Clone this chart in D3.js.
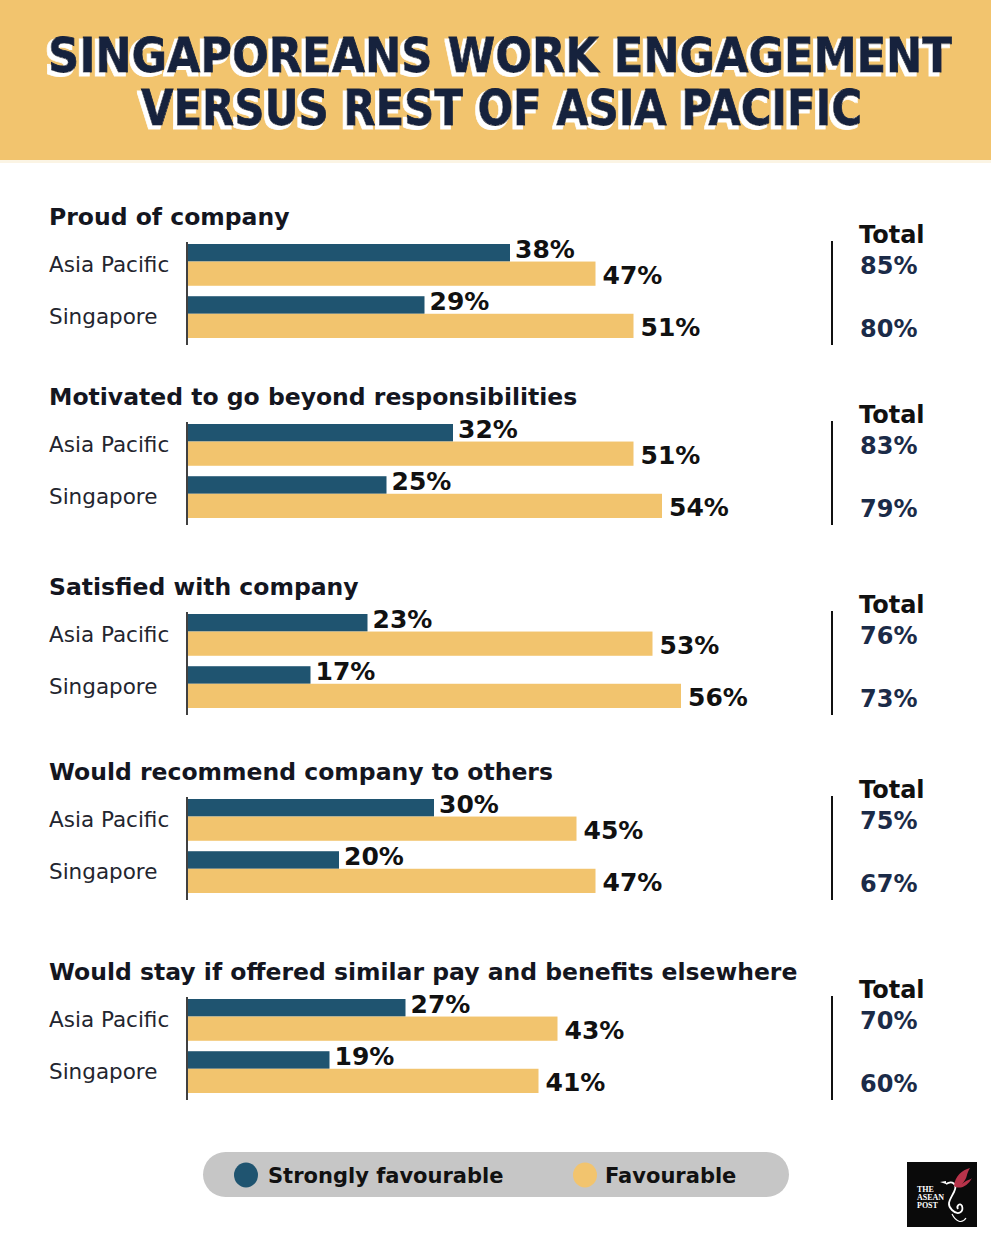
<!DOCTYPE html>
<html>
<head>
<meta charset="utf-8">
<script src="https://cdn.jsdelivr.net/npm/d3@7/dist/d3.min.js"></script>
<style>
  html, body { margin: 0; padding: 0; background: #ffffff; }
  svg { display: block; }
</style>
</head>
<body>
<svg id="chart" width="991" height="1243"></svg>
<script>
// ---------- DATA ----------
const titleLines = ["SINGAPOREANS WORK ENGAGEMENT", "VERSUS REST OF ASIA PACIFIC"];
const categories = [
  "Proud of company",
  "Motivated to go beyond responsibilities",
  "Satisfied with company",
  "Would recommend company to others",
  "Would stay if offered similar pay and benefits elsewhere"
];
const regions = ["Asia Pacific", "Singapore"];
const strongAP = [38, 32, 23, 30, 27];
const favourAP = [47, 51, 53, 45, 43];
const strongSG = [29, 25, 17, 20, 19];
const favourSG = [51, 54, 56, 47, 41];
const totalAP = [85, 83, 76, 75, 70];
const totalSG = [80, 79, 73, 67, 60];
const seriesNames = ["Strongly favourable", "Favourable"];
const totalLabel = "Total";

// ---------- STYLE / LAYOUT ----------
const C = {
  band: "#F2C46E",
  title: "#14213d",
  strong: "#1f5470",
  fav: "#F2C46E",
  text: "#14161f",
  navy: "#1b2b48",
  pill: "#c6c6c6"
};
const FONT = "'DejaVu Sans', sans-serif";
const groupOffsets = [0, 180, 370, 555, 755];

const svg = d3.select("#chart");

// white offset shadow filter for the title
const defs = svg.append("defs");
const f = defs.append("filter").attr("id", "whiteShadow")
  .attr("x", "-5%").attr("y", "-20%").attr("width", "110%").attr("height", "150%");
f.append("feMorphology").attr("in", "SourceAlpha").attr("operator", "dilate").attr("radius", 0.8).attr("result", "fat");
f.append("feOffset").attr("in", "fat").attr("dx", -3).attr("dy", 3).attr("result", "off");
f.append("feFlood").attr("flood-color", "#ffffff").attr("result", "white");
f.append("feComposite").attr("in", "white").attr("in2", "off").attr("operator", "in").attr("result", "shadow");
const fm = f.append("feMerge");
fm.append("feMergeNode").attr("in", "shadow");
fm.append("feMergeNode").attr("in", "SourceGraphic");

// Header band
svg.append("rect").attr("x", 0).attr("y", 0).attr("width", 991).attr("height", 160).attr("fill", C.band);
svg.append("rect").attr("x", 0).attr("y", 160).attr("width", 991).attr("height", 3).attr("fill", "#fbf4e4");

const titleSpecs = [
  { x: 48, y: 72, len: 904, size: 48 },
  { x: 141, y: 125, len: 721, size: 49 }
];
titleLines.forEach((t, i) => {
  const s = titleSpecs[i];
  const txt = svg.append("text")
    .attr("x", 0).attr("y", 0)
    .attr("font-family", FONT).attr("font-weight", "bold").attr("font-size", s.size)
    .attr("fill", C.title).attr("stroke", C.title).attr("stroke-width", 0.8)
    .attr("filter", "url(#whiteShadow)")
    .text(t);
  const natural = txt.node().getComputedTextLength();
  const sx = s.len / natural;
  txt.attr("transform", `translate(${s.x},${s.y}) scale(${sx},1)`);
});

// Scales
const x = d3.scaleLinear().domain([4, 100]).range([187, 1099]);
const yRow = d3.scaleBand().domain(regions).range([244, 338]).paddingInner(0.2);
const darkFrac = 0.42;

const rowsData = categories.map((cat, i) => ({
  cat, i,
  rows: [
    { region: regions[0], strong: strongAP[i], fav: favourAP[i], total: totalAP[i] },
    { region: regions[1], strong: strongSG[i], fav: favourSG[i], total: totalSG[i] }
  ]
}));

const groups = svg.selectAll("g.grp").data(rowsData).join("g")
  .attr("class", "grp")
  .attr("transform", d => `translate(0,${groupOffsets[d.i]})`);

// group title
groups.append("text")
  .attr("x", 49).attr("y", 225)
  .attr("font-family", FONT).attr("font-weight", "bold").attr("font-size", 23.5)
  .attr("fill", C.text)
  .text(d => d.cat);

// axis line at 0
groups.append("line")
  .attr("x1", 187).attr("x2", 187).attr("y1", 242).attr("y2", 345)
  .attr("stroke", "#111").attr("stroke-width", 1.6);

// right separator line
groups.append("line")
  .attr("x1", 832).attr("x2", 832).attr("y1", 241).attr("y2", 345)
  .attr("stroke", "#111").attr("stroke-width", 2);

// Total header
groups.append("text")
  .attr("x", 859).attr("y", 243)
  .attr("font-family", FONT).attr("font-weight", "bold").attr("font-size", 24)
  .attr("fill", "#111")
  .text(totalLabel);

const rows = groups.selectAll("g.row").data(d => d.rows).join("g").attr("class", "row");

// region labels
rows.append("text")
  .attr("x", 49).attr("y", d => yRow(d.region) + yRow.bandwidth() / 2 + 7)
  .attr("font-family", FONT).attr("font-size", 21.5)
  .attr("fill", "#23252e")
  .text(d => d.region);

// strongly favourable bars
rows.append("rect")
  .attr("x", x(4) + 1)
  .attr("y", d => yRow(d.region))
  .attr("width", d => x(d.strong) - x(4) - 1)
  .attr("height", yRow.bandwidth() * darkFrac)
  .attr("fill", C.strong);

// favourable bars
rows.append("rect")
  .attr("x", x(4) + 1)
  .attr("y", d => yRow(d.region) + yRow.bandwidth() * darkFrac)
  .attr("width", d => x(d.fav) - x(4) - 1)
  .attr("height", yRow.bandwidth() * (1 - darkFrac))
  .attr("fill", C.fav);

// value labels
rows.append("text")
  .attr("x", d => x(d.strong) + 5)
  .attr("y", d => yRow(d.region) + yRow.bandwidth() * darkFrac - 4)
  .attr("font-family", FONT).attr("font-weight", "bold").attr("font-size", 25)
  .attr("fill", "#111")
  .text(d => d.strong + "%");

rows.append("text")
  .attr("x", d => x(d.fav) + 7)
  .attr("y", d => yRow(d.region) + yRow.bandwidth() - 2)
  .attr("font-family", FONT).attr("font-weight", "bold").attr("font-size", 25)
  .attr("fill", "#111")
  .text(d => d.fav + "%");

// totals
rows.append("text")
  .attr("x", 860)
  .attr("y", (d, j) => j === 0 ? 274 : 337)
  .attr("font-family", FONT).attr("font-weight", "bold").attr("font-size", 24)
  .attr("fill", C.navy)
  .text(d => d.total + "%");

// ---------- LEGEND ----------
const lg = svg.append("g");
lg.append("rect").attr("x", 203).attr("y", 1152).attr("width", 586).attr("height", 45)
  .attr("rx", 22.5).attr("fill", C.pill);
const legendItems = [
  { name: seriesNames[0], color: C.strong, cx: 246, tx: 268 },
  { name: seriesNames[1], color: C.fav, cx: 585, tx: 605 }
];
legendItems.forEach(it => {
  lg.append("ellipse").attr("cx", it.cx).attr("cy", 1175).attr("rx", 12).attr("ry", 12.5).attr("fill", it.color);
  lg.append("text").attr("x", it.tx).attr("y", 1183)
    .attr("font-family", FONT).attr("font-weight", "bold").attr("font-size", 21)
    .attr("fill", "#111").text(it.name);
});

// ---------- LOGO ----------
const logo = svg.append("g");
logo.append("rect").attr("x", 907).attr("y", 1162).attr("width", 70).attr("height", 65).attr("fill", "#0a0a0a");
["THE", "ASEAN", "POST"].forEach((t, i) => {
  logo.append("text").attr("x", 917).attr("y", 1192 + i * 8)
    .attr("font-family", "'Liberation Serif', serif").attr("font-weight", "bold").attr("font-size", 8)
    .attr("fill", "#ffffff").text(t);
});
logo.append("path")
  .attr("d", "M946,1184 C952,1180 958,1184 954,1192 C950,1200 946,1204 952,1210 C958,1216 964,1212 962,1206 C960,1202 956,1206 958,1209")
  .attr("fill", "none").attr("stroke", "#ffffff").attr("stroke-width", 1.8);
logo.append("path")
  .attr("d", "M946,1184 L940,1182 L946,1181 Z").attr("fill", "#ffffff");
logo.append("path")
  .attr("d", "M954,1186 C955,1176 962,1170 970,1168 C966,1174 968,1178 962,1184 C966,1180 970,1180 972,1178 C968,1186 960,1190 954,1186 Z")
  .attr("fill", "#b8334a");
logo.append("path")
  .attr("d", "M952,1214 C956,1222 962,1224 966,1218")
  .attr("fill", "none").attr("stroke", "#ffffff").attr("stroke-width", 1.2);
</script>
</body>
</html>
